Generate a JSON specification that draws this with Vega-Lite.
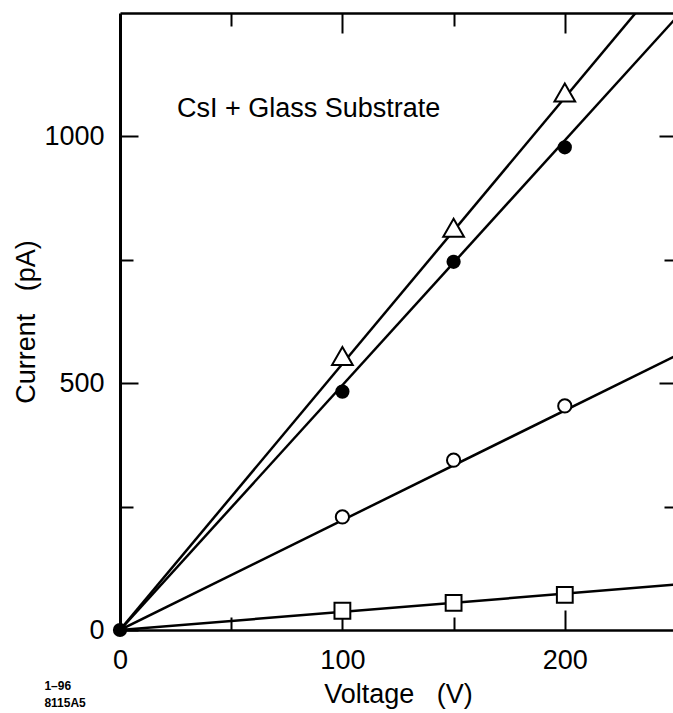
{
  "$schema": "https://vega.github.io/schema/vega-lite/v6.json",
  "width": 556,
  "height": 617,
  "autosize": {"type": "none"},
  "padding": {"left": 120, "top": 13, "right": 0, "bottom": 83},
  "background": "white",
  "config": {
    "view": {"stroke": null},
    "font": "Liberation Sans",
    "axis": {"grid": false, "tickColor": "black", "domainColor": "black", "labelColor": "black", "titleColor": "black", "titleFontWeight": "normal", "labelFont": "Liberation Sans", "titleFont": "Liberation Sans"}
  },
  "datasets": {
    "points": [
      {"series": "T", "V": 100, "I": 555},
      {"series": "T", "V": 150, "I": 815},
      {"series": "T", "V": 200, "I": 1089},
      {"series": "O", "V": 100, "I": 229},
      {"series": "O", "V": 150, "I": 344},
      {"series": "O", "V": 200, "I": 454},
      {"series": "S", "V": 100, "I": 39},
      {"series": "S", "V": 150, "I": 55},
      {"series": "S", "V": 200, "I": 71},
      {"series": "F", "V": 0, "I": 0},
      {"series": "F", "V": 100, "I": 483},
      {"series": "F", "V": 150, "I": 746},
      {"series": "F", "V": 200, "I": 978}
    ],
    "fits": [
      {"series": "T", "V": 0, "I": 0},
      {"series": "T", "V": 250, "I": 1348},
      {"series": "F", "V": 0, "I": 0},
      {"series": "F", "V": 250, "I": 1240},
      {"series": "O", "V": 0, "I": 0},
      {"series": "O", "V": 250, "I": 556},
      {"series": "S", "V": 0, "I": 0},
      {"series": "S", "V": 250, "I": 92}
    ]
  },
  "layer": [
    {
      "layer": [
        {
          "data": {"name": "fits"},
          "mark": {"type": "line", "color": "black", "strokeWidth": 2.5, "clip": true},
          "encoding": {
            "x": {
              "field": "V", "type": "quantitative",
              "scale": {"domain": [0, 250], "nice": false, "zero": false},
              "axis": {
                "orient": "bottom",
                "values": [0, 50, 100, 150, 200],
                "labelExpr": "datum.value % 100 === 0 ? datum.label : ''",
                "title": "Voltage\u00a0\u00a0\u00a0(V)",
                "tickSize": {"condition": {"test": "datum.value % 100 === 0", "value": -20}, "value": -13},
                "tickWidth": 2,
                "domainWidth": 2.5,
                "labelFontSize": 27,
                "labelPadding": 37,
                "labelFlush": false,
                "titleFontSize": 27,
                "titlePadding": 8
              }
            },
            "y": {
              "field": "I", "type": "quantitative",
              "scale": {"domain": [0, 1250], "nice": false, "zero": false},
              "axis": {
                "orient": "left",
                "values": [0, 250, 500, 750, 1000],
                "format": "d",
                "labelExpr": "datum.value % 500 === 0 ? datum.label : ''",
                "title": "Current\u00a0\u00a0\u00a0(pA)",
                "tickSize": {"condition": {"test": "datum.value % 500 === 0", "value": -18}, "value": -13},
                "tickWidth": 2,
                "domainWidth": 3,
                "labelFontSize": 27,
                "labelPadding": 34,
                "labelFlush": false,
                "titleFontSize": 27,
                "titlePadding": 3
              }
            },
            "detail": {"field": "series"}
          }
        },
        {
          "data": {"name": "points"},
          "mark": {"type": "point", "filled": true, "stroke": "black", "strokeWidth": 2, "opacity": 1},
          "encoding": {
            "x": {"field": "V", "type": "quantitative"},
            "y": {"field": "I", "type": "quantitative"},
            "shape": {"field": "series", "type": "nominal", "scale": {"domain": ["T", "F", "O", "S"], "range": ["triangle-up", "circle", "circle", "square"]}, "legend": null},
            "fill": {"field": "series", "type": "nominal", "scale": {"domain": ["T", "F", "O", "S"], "range": ["white", "black", "white", "white"]}, "legend": null},
            "size": {"field": "series", "type": "nominal", "scale": {"type": "ordinal", "domain": ["T", "F", "O", "S"], "range": [430, 150, 175, 250]}, "legend": null}
          }
        },
        {
          "data": {"values": [{}]},
          "mark": {"type": "text", "text": "CsI + Glass Substrate", "fontSize": 27, "align": "left", "baseline": "alphabetic", "color": "black", "font": "Liberation Sans"},
          "encoding": {
            "x": {"datum": 25.6, "type": "quantitative"},
            "y": {"datum": 1040, "type": "quantitative"}
          }
        },
        {
          "data": {"values": [{}]},
          "mark": {"type": "text", "text": ["1–96", "8115A5"], "fontSize": 12, "fontWeight": "bold", "lineHeight": 17, "align": "left", "baseline": "alphabetic", "color": "black", "font": "Liberation Sans", "clip": false},
          "encoding": {
            "x": {"datum": -34, "type": "quantitative"},
            "y": {"datum": -122, "type": "quantitative"}
          }
        }
      ]
    },
    {
      "data": {"values": [{"V": 0, "I": 0}]},
      "mark": {"type": "point", "opacity": 0},
      "encoding": {
        "x": {
          "field": "V", "type": "quantitative",
          "scale": {"domain": [0, 250], "nice": false, "zero": false},
          "axis": {
            "orient": "top",
            "values": [50, 100, 150, 200],
            "labels": false,
            "title": null,
            "tickSize": {"condition": {"test": "datum.value % 100 === 0", "value": -20}, "value": -13},
            "tickWidth": 2,
            "domainWidth": 2.5
          }
        },
        "y": {
          "field": "I", "type": "quantitative",
          "scale": {"domain": [0, 1250], "nice": false, "zero": false},
          "axis": {
            "orient": "right",
            "values": [250, 500, 750, 1000],
            "labels": false,
            "title": null,
            "tickSize": {"condition": {"test": "datum.value % 500 === 0", "value": -17}, "value": -12},
            "tickWidth": 2,
            "domainWidth": 2.5
          }
        }
      }
    }
  ],
  "resolve": {"axis": {"x": "independent", "y": "independent"}}
}
